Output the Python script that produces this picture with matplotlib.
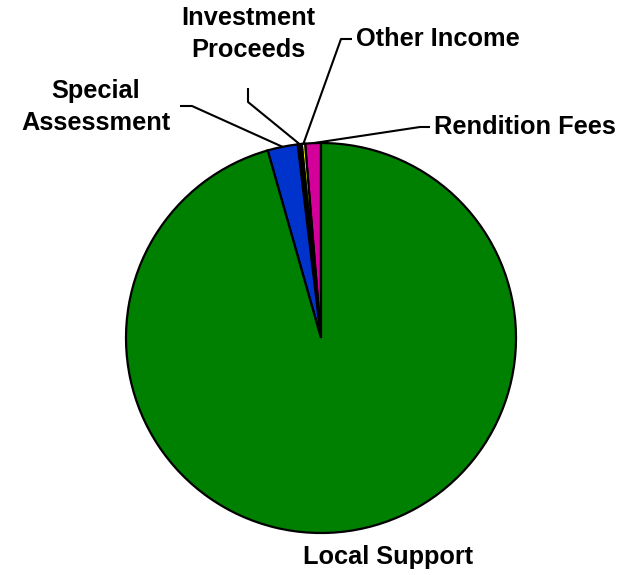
import numpy as np
import matplotlib
matplotlib.use('Agg')
import matplotlib.pyplot as plt

# revenue sources, counter-clockwise from 12 o'clock
labels = ['Rendition Fees', 'Other Income', 'Investment\nProceeds', 'Special\nAssessment', 'Local Support']
values = [1.3, 0.28, 0.33, 2.5, 95.59]
colors = ['#D4009A', '#FFFF00', '#000000', '#0033CC', '#008000']

W, H = 624, 575
cx, cy, R = 321, H - 338, 195   # pie centre / radius in pixels

fig = plt.figure(figsize=(W / 100, H / 100), dpi=100)
ax = fig.add_axes([0, 0, 1, 1])

wedges, _ = ax.pie(values, colors=colors, startangle=90, counterclock=True,
                   center=(cx, cy), radius=R,
                   wedgeprops=dict(edgecolor='black', linewidth=1.6))

# pie() changes the limits, so fix the pixel frame afterwards
ax.set_xlim(0, W)
ax.set_ylim(0, H)
ax.set_aspect('equal')
ax.axis('off')

font = dict(family=['Liberation Sans', 'DejaVu Sans'], fontweight='bold', fontsize=18.3)

def edge_point(w):
    ang = np.deg2rad((w.theta1 + w.theta2) / 2)
    return cx + R * np.cos(ang), cy + R * np.sin(ang)

# text position, alignment and leader elbow for each label (pixels, top origin)
layout = [
    ((434, 127), 'left', [(430, 127), (420, 127)]),
    ((356, 39), 'left', [(352, 39), (341, 39)]),
    ((248, 34), 'center', [(248, 88), (248, 102)]),
    ((96, 107), 'center', [(180, 106), (192, 106)]),
    ((388, 557), 'center', None),
]

for w, lab, (pos, ha, elbow) in zip(wedges, labels, layout):
    ax.text(pos[0], H - pos[1], lab, ha=ha, va='center', linespacing=1.45, **font)
    if elbow is None:
        continue
    px, py = edge_point(w)
    xs = [elbow[0][0], elbow[1][0], px]
    ys = [H - elbow[0][1], H - elbow[1][1], py]
    ax.plot(xs, ys, color='black', lw=1.5, solid_capstyle='butt', zorder=0.5)

fig.savefig('out.png', dpi=100)
